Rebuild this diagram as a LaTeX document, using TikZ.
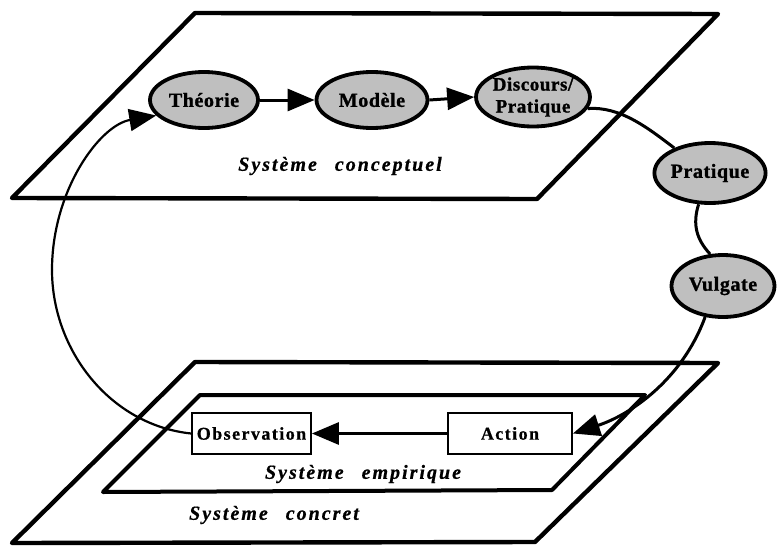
\documentclass[tikz,border=0pt]{standalone}
\usepackage{fontspec}
\setmainfont{Liberation Serif}
\newfontfamily\nodefont[LetterSpace=3,BoldFeatures={FakeBold=1.2}]{Liberation Serif}
\newfontfamily\boxfont[LetterSpace=8,BoldFeatures={FakeBold=0.6}]{Liberation Serif}
\newfontfamily\planefont[LetterSpace=10,BoldItalicFeatures={FakeBold=0.6}]{Liberation Serif}
\usetikzlibrary{shapes.geometric,arrows.meta}

\begin{document}
\begin{tikzpicture}[x=1pt,y=-1pt,
  plane/.style={line width=4.4pt,line join=round},
  stage/.style={ellipse,draw,line width=3.8pt,fill=gray!50,inner sep=0pt,
    align=center,font=\nodefont\bfseries\fontsize{20}{22}\selectfont},
  actbox/.style={rectangle,draw,line width=1.8pt,fill=white,inner sep=0pt,
    minimum height=41pt,font=\boxfont\bfseries\fontsize{18}{20}\selectfont},
  link/.style={line width=3pt},
  loop/.style={line width=2.2pt},
  tip/.style={-{Triangle[length=27pt,width=22pt]}},
  planelabel/.style={font=\planefont\bfseries\itshape\fontsize{20}{24}\selectfont}]

  % page
  \path[fill=white] (0,0) rectangle (779,546);
  \useasboundingbox (0,0) rectangle (779,546);

  % planes
  \draw[plane] (12,198) -- (537,199) -- (718,14) -- (195,13) -- cycle;
  \draw[plane] (12,543) -- (535,542) -- (718,363) -- (195,362) -- cycle;
  \draw[plane,line width=4pt] (103,492) -- (552,490) -- (645,395) -- (200,395) -- cycle;

  % plane labels
  \node[planelabel] (conceptuel) at (340,166) {Système\hspace{0.9em}conceptuel};
  \node[planelabel] (empirique) at (363,474) {Système\hspace{0.9em}empirique};
  \node[planelabel] (concret) at (274,515) {Système\hspace{0.9em}concret};

  % conceptual stages
  \node[stage,minimum width=108pt,minimum height=56pt] (theorie) at (204,100) {Théorie};
  \node[stage,minimum width=111pt,minimum height=56pt] (modele) at (372,100) {Modèle};
  \node[stage,minimum width=107pt,minimum height=59pt,
        font=\nodefont\bfseries\fontsize{19}{22}\selectfont] (discours) at (533,97) {Discours/\\Pratique};
  \node[stage,minimum width=106pt,minimum height=60pt] (pratique) at (710,173) {Pratique};
  \node[stage,minimum width=103pt,minimum height=62pt] (vulgate) at (723,286) {Vulgate};

  % empirical stages
  \node[actbox,minimum width=119pt] (obs) at (251.5,433.5) {Observation};
  \node[actbox,minimum width=124pt] (action) at (510,433.5) {Action};

  % connectors
  \coordinate (leftbend) at (52,270);
  \draw[link,tip] (theorie.east) -- (modele.west);
  \draw[link,tip] (modele.east) -- (discours.west);
  \draw[link] (discours.-12) .. controls (620,106) and (648,128) .. (pratique.145);
  \draw[link] (pratique.-110) .. controls (692,225) and (697,240) .. (vulgate.112);
  \draw[link,tip] (vulgate.-120) .. controls (682,380) and (630,415) .. (action.east);
  \draw[link,tip] (action.west) -- (obs.east);
  \draw[loop] (obs.west) .. controls (110,425) and (52,350) .. (leftbend);
  \draw[loop,tip] (leftbend) .. controls (52,190) and (100,125) .. (theorie.198);
\end{tikzpicture}
\end{document}
